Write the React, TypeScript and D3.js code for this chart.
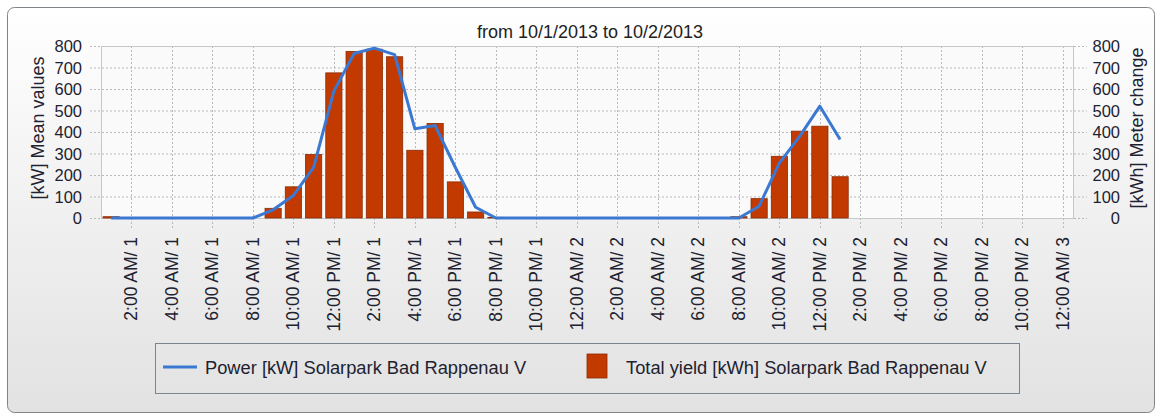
import * as d3 from "d3";

// hourly readings, hour 1 = 1:00 AM on 10/1
const hours = [
  1, 2, 3, 4, 5, 6, 7, 8, 9, 10, 11, 12, 13, 14, 15, 16, 17, 18, 19, 20, 21, 22, 23, 24, 25, 26, 27, 28,
  29, 30, 31, 32, 33, 34, 35, 36, 37,
];
const power = [
  0, 0, 0, 0, 0, 0, 0, 0, 38, 105, 235, 590, 765, 790, 760, 415, 430, 235, 50, 0, 0, 0, 0, 0, 0, 0, 0, 0,
  0, 0, 0, 0, 55, 255, 380, 520, 365,
];
const totalYield = [
  6, 0, 0, 0, 0, 0, 0, 0, 45, 145, 295, 675, 775, 785, 750, 315, 440, 168, 28, 3, 0, 0, 0, 0, 0, 0, 0, 0,
  0, 0, 0, 6, 90, 287, 404, 427, 192,
];

const tickHours = [2, 4, 6, 8, 10, 12, 14, 16, 18, 20, 22, 24, 26, 28, 30, 32, 34, 36, 38, 40, 42, 44, 46, 48];
const tickLabels = [
  "2:00 AM/ 1", "4:00 AM/ 1", "6:00 AM/ 1", "8:00 AM/ 1", "10:00 AM/ 1", "12:00 PM/ 1",
  "2:00 PM/ 1", "4:00 PM/ 1", "6:00 PM/ 1", "8:00 PM/ 1", "10:00 PM/ 1", "12:00 AM/ 2",
  "2:00 AM/ 2", "4:00 AM/ 2", "6:00 AM/ 2", "8:00 AM/ 2", "10:00 AM/ 2", "12:00 PM/ 2",
  "2:00 PM/ 2", "4:00 PM/ 2", "6:00 PM/ 2", "8:00 PM/ 2", "10:00 PM/ 2", "12:00 AM/ 3",
];
const yTicks = [0, 100, 200, 300, 400, 500, 600, 700, 800];

const title = "from 10/1/2013 to 10/2/2013";
const leftTitle = "[kW] Mean values";
const rightTitle = "[kWh] Meter change";
const lineName = "Power [kW] Solarpark Bad Rappenau V";
const barName = "Total yield [kWh] Solarpark Bad Rappenau V";

const FONT = "'Liberation Sans', Arial, sans-serif";

const App = () => {
  const left = 101;
  const right = 1073;
  const top = 46;
  const bottom = 218;

  const x = d3.scaleLinear().domain([0.5, 48.5]).range([left, right]);
  const y = d3.scaleLinear().domain([0, 800]).range([bottom, top]);
  const barW = (x(1) - x(0)) * 0.8;

  const line = d3
    .line<number>()
    .x((_, i) => x(hours[i]))
    .y((d) => y(d));

  return (
    <svg width={1160} height={415} style={{ position: "absolute", left: 0, top: 0 }}>
      <defs>
        <linearGradient id="panelBg" x1="0" y1="0" x2="0" y2="1">
          <stop offset="0" stopColor="#ffffff" />
          <stop offset="1" stopColor="#e2e2e2" />
        </linearGradient>
      </defs>
      <rect x={0} y={0} width={1160} height={415} fill="#ffffff" />
      <rect x={7.5} y={7.5} width={1147} height={405} rx={7} fill="url(#panelBg)" stroke="#7f8489" />

      <text x={590} y={38} textAnchor="middle" fontFamily={FONT} fontSize={18} fill="#222">
        {title}
      </text>

      {/* plot area */}
      <rect x={left} y={top} width={right - left} height={bottom - top} fill="#fafafa" />
      {yTicks.map((t) => (
        <line key={"h" + t} x1={left - 11} x2={right + 14} y1={y(t) + 0.5} y2={y(t) + 0.5}
          stroke="#b9b9b9" strokeDasharray="2,2" />
      ))}
      {tickHours.map((h) => (
        <line key={"v" + h} x1={Math.round(x(h)) + 0.5} x2={Math.round(x(h)) + 0.5} y1={top} y2={bottom + 10}
          stroke="#b9b9b9" strokeDasharray="2,2" />
      ))}
      <rect x={left + 0.5} y={top + 0.5} width={right - left} height={bottom - top} fill="none" stroke="#c3c8cd" />

      {totalYield.map((v, i) =>
        v > 0 ? (
          <rect key={"b" + i} x={x(hours[i]) - barW / 2} y={y(v)} width={barW} height={bottom - y(v)}
            fill="#c33a00" stroke="#8a2a00" strokeWidth={0.8} />
        ) : null
      )}
      <path d={line(power) || ""} fill="none" stroke="#3b78d2" strokeWidth={3} strokeLinejoin="round" />

      {/* y axes */}
      {yTicks.map((t) => (
        <text key={"yl" + t} x={82} y={y(t) + 6} textAnchor="end" fontFamily={FONT} fontSize={16.5} fill="#1e2230">
          {t}
        </text>
      ))}
      {yTicks.map((t) => (
        <text key={"yr" + t} x={1120} y={y(t) + 6} textAnchor="end" fontFamily={FONT} fontSize={16.5} fill="#1e2230">
          {t}
        </text>
      ))}
      <text transform="translate(44,128) rotate(-90)" textAnchor="middle" fontFamily={FONT} fontSize={18} fill="#1e2230">
        {leftTitle}
      </text>
      <text transform="translate(1143,128) rotate(-90)" textAnchor="middle" fontFamily={FONT} fontSize={18} fill="#1e2230">
        {rightTitle}
      </text>

      {/* x axis labels */}
      {tickHours.map((h, i) => (
        <text key={"xl" + h} transform={`translate(${x(h) + 6},237) rotate(-90)`} textAnchor="end"
          fontFamily={FONT} fontSize={17.5} fill="#1e2230">
          {tickLabels[i]}
        </text>
      ))}

      {/* legend */}
      <rect x={155.5} y={343.5} width={864} height={50} fill="none" stroke="#7c858e" />
      <line x1={163} x2={197} y1={367} y2={367} stroke="#3b78d2" strokeWidth={3} />
      <text x={205} y={374} fontFamily={FONT} fontSize={18.3} fill="#1e2230">
        {lineName}
      </text>
      <rect x={587} y={354} width={20} height={24} fill="#c33a00" stroke="#8a2a00" strokeWidth={0.8} />
      <text x={626} y={374} fontFamily={FONT} fontSize={18.3} fill="#1e2230">
        {barName}
      </text>
    </svg>
  );
};

export default App;
